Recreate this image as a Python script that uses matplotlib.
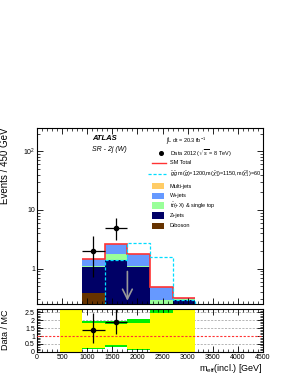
import numpy as np
import matplotlib; matplotlib.use("Agg")
import matplotlib.pyplot as plt
from matplotlib.patches import Rectangle
from matplotlib.lines import Line2D
from matplotlib.ticker import MultipleLocator, FixedLocator, NullFormatter

plt.rcParams['font.family'] = ['Liberation Sans', 'DejaVu Sans']
plt.rcParams['mathtext.fontset'] = 'custom'
plt.rcParams['mathtext.rm'] = 'Liberation Sans'
plt.rcParams['mathtext.it'] = 'Liberation Sans:italic'

# ---- data ----
edges = [900, 1350, 1800, 2250, 2700, 3150]
diboson = [0.38, 0.05, 0.05, 0.02, 0.01]
zjets = [0.69, 1.37, 1.02, 0.20, 0.285]
ttbar = [0.02, 0.38, 0.055, 0.075, 0.005]
wjets = [0.39, 0.84, 0.675, 0.185, 0.02]
multijet = [0.0, 0.0, 0.0, 0.0, 0.0]

sig_edges = [900, 1350, 1800, 2250, 2700, 3150, 3600]
signal = [0.1, 1.39, 2.75, 1.56, 0.29, 0.05]

data_x = [1125, 1575]
data_y = [2, 5]
data_err_lo = [1.29, 1.92]
data_err_hi = [1.63, 2.36]

ratio_y = [1.38, 1.87]
ratio_err_lo = [0.84, 0.76]
ratio_err_hi = [1.07, 0.95]

band_edges = [450, 900, 1350, 1800, 2250, 2700, 3150]
green_lo = [0, 0.17, 0.32, 0.12, 0, 0]
green_hi = [3, 1.97, 1.97, 2.06, 2.66, 3]
yellow_lo = [0, 0.26, 0.43, 0.20, 0, 0]
yellow_hi = [3, 1.85, 1.76, 1.81, 2.45, 3]

arrow_x = 1800

comps = [('Diboson', diboson, '#663300'), ('Z+jets', zjets, '#000066'),
         ('t$\\bar{t}$(+X) & single top', ttbar, '#99FF99'),
         ('W+jets', wjets, '#6699FF'), ('Multi-jets', multijet, '#FFCC66')]

fig = plt.figure(figsize=(2.89, 3.74), dpi=100)
ax = fig.add_axes([0.128, 0.187, 0.782, 0.471])
rx = fig.add_axes([0.128, 0.0596, 0.782, 0.1155])

# stacked histogram
base = np.full(len(edges) - 1, 1e-3)
for lab, vals, c in comps:
    top = base + np.array(vals)
    ax.stairs(top, edges, baseline=base, fill=True, color=c, lw=0)
    base = top
ax.stairs(base, edges, baseline=None, color='#FF3333', lw=1.2)
ax.stairs(signal, sig_edges, baseline=None, color='#00DDFF', lw=0.9, ls=(0, (2.5, 1.5)))
ax.errorbar(data_x, data_y, yerr=[data_err_lo, data_err_hi], xerr=225, fmt='o',
            color='black', ms=3, lw=0.9, capsize=0, zorder=5)
ax.annotate('', xy=(arrow_x, 0.255), xytext=(arrow_x, 1.0),
            arrowprops=dict(arrowstyle='->,head_length=0.7,head_width=0.35', color='#999999', lw=1.2))

ax.set_yscale('log')
ax.set_xlim(0, 4500); ax.set_ylim(0.25, 250)
ax.set_yticks([1, 10, 100]); ax.set_yticklabels(['1', '10', '$10^2$'])
ax.xaxis.set_major_locator(MultipleLocator(500)); ax.xaxis.set_minor_locator(MultipleLocator(100))
ax.tick_params(labelbottom=False)
ax.set_ylabel('Events / 450 GeV', fontsize=7, loc='top')

# legend drawn by hand
T = ax.transAxes
ax.text(0.243, 0.9375, 'ATLAS', transform=T, fontsize=5.5, weight='bold', style='italic', va='center')
ax.text(0.243, 0.88, 'SR - 2j (W)', transform=T, fontsize=5, style='italic', va='center')
ax.text(0.57, 0.925, '$\\int$L dt = 20.3 fb$^{-1}$', transform=T, fontsize=4, va='center')
rows = [0.858, 0.801, 0.739]
ax.add_line(Line2D([0.547], [rows[0]], marker='o', ms=2.6, color='black', transform=T))
ax.text(0.587, rows[0], 'Data 2012 ($\\sqrt{s}$ = 8 TeV)', transform=T, fontsize=4, va='center')
ax.add_line(Line2D([0.51, 0.57], [rows[1]] * 2, color='#FF3333', lw=1, transform=T))
ax.text(0.587, rows[1], 'SM Total', transform=T, fontsize=4, va='center')
ax.add_line(Line2D([0.49, 0.57], [rows[2]] * 2, color='#00DDFF', lw=0.9, ls=(0, (2.5, 1.5)), transform=T))
t = ax.text(0.587, rows[2], '$\\tilde{g}\\tilde{g}$ m($\\tilde{g}$)=1200,m($\\tilde{\\chi}_1^{\\pm}$)=1150,m($\\tilde{\\chi}_1^0$)=60',
            transform=T, fontsize=4, va='center', clip_on=True)
box_rows = [0.670, 0.614, 0.559, 0.502, 0.445]
for (lab, vals, c), yy in zip(comps[::-1], box_rows):
    ax.add_patch(Rectangle((0.51, yy - 0.018), 0.05, 0.036, transform=T, color=c, lw=0))
    ax.text(0.587, yy, lab, transform=T, fontsize=4, va='center')

# ratio panel
for yv in [0.5, 1.5, 2, 2.5]:
    rx.axhline(yv, color='#999999', lw=0.5, ls=(0, (3, 2)), zorder=0)
rx.stairs(green_hi, band_edges, baseline=green_lo, fill=True, color='#00EE00', lw=0, zorder=1)
rx.stairs(yellow_hi, band_edges, baseline=yellow_lo, fill=True, color='#FFFF00', lw=0, zorder=2)
rx.axhline(1, color='#FF3333', lw=0.8, ls=(0, (2, 1.5)), zorder=3)
rx.errorbar(data_x, ratio_y, yerr=[ratio_err_lo, ratio_err_hi], xerr=225, fmt='o',
            color='black', ms=3, lw=0.9, capsize=0, zorder=5)
rx.set_xlim(0, 4500); rx.set_ylim(0, 2.75)
rx.xaxis.set_major_locator(MultipleLocator(500)); rx.xaxis.set_minor_locator(MultipleLocator(100))
rx.yaxis.set_major_locator(FixedLocator([0, 0.5, 1, 1.5, 2, 2.5]))
rx.yaxis.set_minor_locator(MultipleLocator(0.1))
rx.set_yticklabels(['0', '0.5', '1', '1.5', '2', '2.5'])
rx.set_ylabel('Data / MC', fontsize=6.5)
rx.set_xlabel('m$_{\\rm eff}$(incl.) [GeV]', fontsize=6.5, loc='right', labelpad=1)

for a in (ax, rx):
    a.tick_params(which='both', direction='in', top=True, right=True, labelsize=5, pad=1.5)
    a.tick_params(which='major', length=4, width=0.6)
    a.tick_params(which='minor', length=2, width=0.5)
    for s in a.spines.values():
        s.set_linewidth(0.8)
ax.yaxis.set_label_coords(-0.12, 1.0)
rx.yaxis.set_label_coords(-0.12, 0.5)

fig.savefig('out.png', dpi=100)
